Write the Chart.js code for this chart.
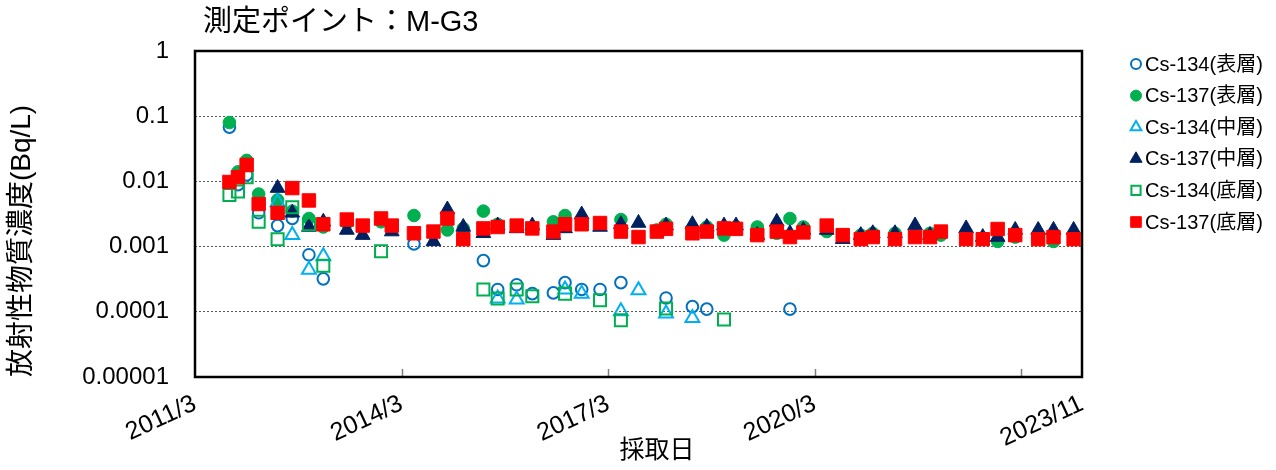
<!DOCTYPE html>
<html><head><meta charset="utf-8">
<script src="https://cdn.jsdelivr.net/npm/chart.js@4.4.0/dist/chart.umd.min.js"></script>
<style>html,body{margin:0;padding:0;background:#fff;}#wrap{position:relative;width:1276px;height:470px;}</style>
</head><body><div id="wrap"><canvas id="c"></canvas></div>
<script>
// ---- data ----
const sampleDates = [
 '2011/09/01','2011/10/16','2011/12/01','2012/02/04','2012/05/13','2012/07/30','2012/10/27','2013/01/12',
 '2013/05/15','2013/08/08','2013/11/14','2014/01/10','2014/05/06','2014/08/18','2014/10/31','2015/01/24',
 '2015/05/09','2015/07/24','2015/11/03','2016/01/25','2016/05/15','2016/07/16','2016/10/13','2017/01/19',
 '2017/05/08','2017/08/10','2017/11/16','2018/01/04','2018/05/22','2018/08/07','2018/11/07','2019/01/10',
 '2019/05/01','2019/08/13','2019/10/22','2020/01/02','2020/05/04','2020/07/28','2020/11/02','2021/01/05',
 '2021/05/01','2021/08/16','2021/11/04','2022/01/01','2022/05/13','2022/08/10','2022/10/28','2023/01/30',
 '2023/05/30','2023/08/20','2023/12/05'
];
const cs134Surface = [0.068,0.0089,0.0126,0.0033,0.0021,0.0027,0.00075,0.00032,null,null,null,null,0.0011,null,null,null,
 0.00061,0.00022,0.00026,0.00019,0.000195,0.00028,0.00022,0.00022,0.00028,null,null,0.000163,0.00012,0.00011,null,null,
 null,null,0.00011,null,null,null,null,null,null,null,null,null,null,null,null,null,null,null,null];
const cs137Surface = [0.080,0.014,0.021,0.0064,0.0052,0.0035,0.0027,0.0020,0.0023,null,0.0024,null,0.0030,null,0.0018,0.0019,
 0.0035,0.0022,null,null,0.0024,0.0030,null,null,0.0026,null,0.0018,0.0022,0.0019,0.0020,0.0015,0.0020,
 0.0020,0.0016,0.0027,0.0020,0.0017,0.0014,0.0015,0.0016,0.0016,0.0015,0.0016,0.0015,0.0016,0.0013,0.0012,0.0014,
 0.0014,0.0012,0.0013];
const cs134Middle = [null,null,null,null,0.0048,0.0015,0.00044,0.00071,null,null,null,null,null,null,null,null,
 null,0.00016,0.000155,null,null,0.00022,0.00019,null,0.000102,0.000214,null,0.000094,0.000080,null,null,null,
 null,null,null,null,null,null,null,null,null,null,null,null,null,null,null,null,null,null,null];
const cs137Middle = [null,null,null,null,0.0079,0.0033,0.0020,0.0024,0.0018,0.0015,null,0.0017,null,0.0012,0.0037,0.0020,
 0.0016,0.0021,0.0019,0.0021,0.0015,0.0019,0.0031,0.0020,0.0022,0.0023,null,0.0021,0.0022,0.0020,0.0021,0.0021,
 0.0015,0.0024,0.0016,0.0018,0.0018,0.0013,0.0015,0.0016,0.0016,0.0021,0.0015,null,0.0019,0.0014,0.0014,0.0018,
 0.0018,0.0018,0.0018];
const cs134Bottom = [0.0062,0.0070,0.0116,0.0024,0.0013,0.0040,0.0022,0.00051,null,null,0.00085,null,null,null,null,null,
 0.00022,0.00016,0.00022,0.000173,null,0.00019,null,0.00015,0.000074,null,null,0.000112,null,null,0.000076,null,
 null,null,null,null,null,null,null,null,null,null,null,null,null,null,null,null,null,null,null];
const cs137Bottom = [0.0098,0.0116,0.0179,0.0045,0.0033,0.0079,0.0051,0.0022,0.0026,0.0021,0.0027,0.0021,0.0016,0.0017,0.0027,0.0013,
 0.0019,0.0020,0.0021,0.0019,0.0017,0.0022,0.0022,0.0023,0.0017,0.0014,0.0017,0.00187,0.0016,0.0017,0.0019,0.00187,
 0.0015,0.0017,0.0014,0.00165,0.0021,0.0015,0.0013,0.0014,0.0013,0.0014,0.0014,0.0017,0.0013,0.0013,0.00186,0.0015,
 0.0013,0.0014,0.0013];
const seriesNames = ['Cs-134(表層)','Cs-137(表層)','Cs-134(中層)','Cs-137(中層)','Cs-134(底層)','Cs-137(底層)'];
const yTickValues = [1,0.1,0.01,0.001,0.0001,0.00001];
const yTickLabels = ['1','0.1','0.01','0.001','0.0001','0.00001'];
const xTickDates = ['2011/03/01','2014/03/01','2017/03/01','2020/03/01','2024/01/19'];
const xTickLabels = ['2011/3','2014/3','2017/3','2020/3','2023/11'];
const xInnerTickDates = ['2014/03/01','2017/03/01','2020/03/01','2023/03/01'];
const xAxisStart = '2011/03/01';
const xAxisEnd = '2024/01/19';
const chartTitle = '測定ポイント：M-G3';
const yTitle = '放射性物質濃度(Bq/L)';
const xTitle = '採取日';

// ---- build ----
const parseMonths = s => { const [y,m,d] = s.split('/').map(Number); return (y-2011)*12 + (m-3) + (d-1)/30.44; };
const xs = sampleDates.map(parseMonths);
const seriesValues = [cs134Surface, cs137Surface, cs134Middle, cs137Middle, cs134Bottom, cs137Bottom];
const styles = [
 {pointStyle:'circle',   radius:5.8, borderWidth:2, color:'#0070C0', fill:false, lr:5,   lbw:2},
 {pointStyle:'circle',   radius:6.3, borderWidth:1, color:'#00B050', fill:true,  lr:5.5, lbw:1},
 {pointStyle:'triangle', radius:8,   borderWidth:2, color:'#00B0F0', fill:false, lr:6.2, lbw:2},
 {pointStyle:'triangle', radius:8.5, borderWidth:1, color:'#002060', fill:true,  lr:7,   lbw:1},
 {pointStyle:'rect',     radius:8.5, borderWidth:2, color:'#00B050', fill:false, lr:6.5, lbw:2},
 {pointStyle:'rect',     radius:9.5, borderWidth:1, color:'#FF0000', fill:true,  lr:7.5, lbw:1}
];
const datasets = seriesValues.map((vals,i)=>({
  label: seriesNames[i],
  data: vals.map((v,j)=> v==null ? null : {x:xs[j], y:v}).filter(Boolean),
  pointStyle: styles[i].pointStyle,
  pointRadius: styles[i].radius,
  pointHoverRadius: styles[i].radius,
  pointBorderWidth: styles[i].borderWidth,
  borderColor: styles[i].color,
  backgroundColor: styles[i].fill ? styles[i].color : 'rgba(0,0,0,0)',
  showLine: false,
  order: 6 - i
}));

const FONT = "'Liberation Sans', 'Noto Sans CJK JP', sans-serif";
Chart.defaults.font.family = FONT;
Chart.defaults.color = '#000';

const decor = {
  id: 'decor',
  beforeDatasetsDraw(chart) {
    const {ctx, chartArea:a, scales:{x}} = chart;
    ctx.save();
    ctx.strokeStyle = '#808080'; ctx.lineWidth = 1.5;
    xInnerTickDates.forEach(d => {
      const px = Math.round(x.getPixelForValue(parseMonths(d))) + 0.5;
      ctx.beginPath(); ctx.moveTo(px, a.bottom); ctx.lineTo(px, a.bottom - 8); ctx.stroke();
    });
    ctx.strokeStyle = '#000'; ctx.lineWidth = 2.5;
    ctx.strokeRect(a.left, a.top, a.right - a.left, a.bottom - a.top);
    ctx.restore();
  },
  afterDraw(chart) {
    const {ctx} = chart;
    ctx.save();
    ctx.fillStyle = '#000';
    ctx.textBaseline = 'middle';
    ctx.textAlign = 'left';
    ctx.font = "29px " + FONT;
    ctx.fillText(chartTitle, 203, 23);
    // y title
    ctx.save();
    ctx.translate(22, 241);
    ctx.rotate(-Math.PI/2);
    ctx.textAlign = 'center';
    ctx.font = "28px " + FONT;
    ctx.fillText(yTitle, 0, 0);
    ctx.restore();
    // x title
    ctx.textAlign = 'center';
    ctx.font = "25px " + FONT;
    ctx.fillText(xTitle, 657, 451);
    // legend
    ctx.textAlign = 'left';
    ctx.font = "20px " + FONT;
    seriesNames.forEach((name, i) => {
      const st = styles[i];
      const cy = 64 + i * 31.6;
      ctx.fillStyle = st.fill ? st.color : 'rgba(0,0,0,0)';
      ctx.strokeStyle = st.color;
      ctx.lineWidth = st.lbw;
      Chart.helpers.drawPoint(ctx, {pointStyle: st.pointStyle, radius: st.lr, rotation: 0, borderWidth: st.lbw}, 1136, cy);
      ctx.fillStyle = '#000';
      ctx.fillText(name, 1145, cy + 1);
    });
    ctx.restore();
  }
};

new Chart(document.getElementById('c'), {
  type: 'scatter',
  data: { datasets },
  options: {
    responsive: true, maintainAspectRatio: false, animation: false,
    layout: { padding: { left: 0, top: 51, right: 194, bottom: 0 } },
    plugins: { legend: { display: false }, title: { display: false }, tooltip: { enabled: false } },
    scales: {
      x: {
        type: 'linear', min: parseMonths(xAxisStart), max: parseMonths(xAxisEnd),
        afterFit(s) { s.height = 93; },
        afterBuildTicks(s) { s.ticks = xTickDates.map(d => ({ value: parseMonths(d) })); },
        ticks: {
          autoSkip: false, maxRotation: 25, minRotation: 25, padding: 4,
          font: { size: 25 }, color: '#000',
          callback: (v) => { const k = xTickDates.findIndex(d => Math.abs(parseMonths(d) - v) < 1e-6); return k >= 0 ? xTickLabels[k] : ''; }
        },
        grid: { display: false }, border: { display: false }
      },
      y: {
        type: 'logarithmic', min: 0.00001, max: 1,
        afterFit(s) { s.width = 195; },
        afterBuildTicks(s) { s.ticks = yTickValues.map(v => ({ value: v })); },
        ticks: {
          padding: 26, font: { size: 24 }, color: '#000',
          callback: (v) => { const k = yTickValues.findIndex(t => Math.abs(Math.log10(t) - Math.log10(v)) < 1e-6); return k >= 0 ? yTickLabels[k] : ''; }
        },
        grid: { color: '#5a5a5a', lineWidth: 1, drawTicks: false },
        border: { display: false, dash: [2, 2] }
      }
    }
  },
  plugins: [decor]
});
</script>
</body></html>
